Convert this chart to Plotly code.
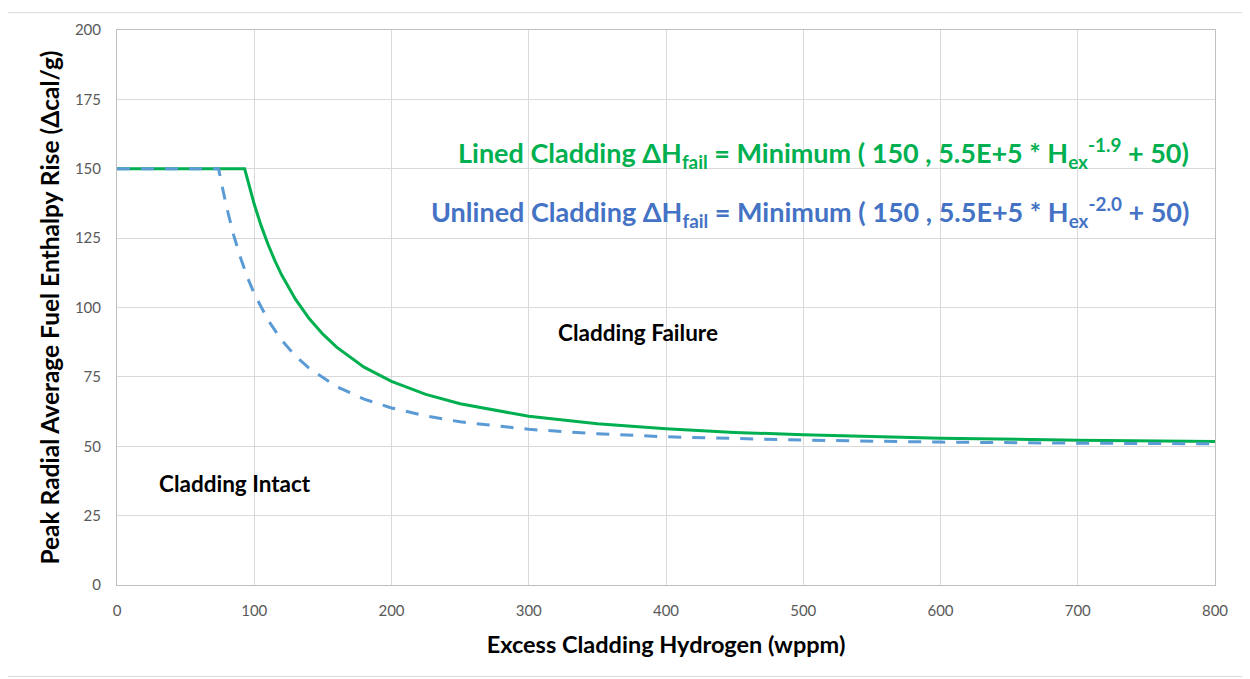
import plotly.graph_objects as go

# Excess cladding hydrogen (wppm) and failure threshold (Δcal/g)
lined_x = [0, 50, 93, 96, 100, 105, 110, 115, 120, 130, 140, 150, 160, 180, 200, 225, 250, 300, 350, 400, 450, 500, 600, 700, 800]
lined_y = [150, 150, 150, 144.5, 137.2, 129.5, 122.8, 116.9, 111.7, 103.0, 96.0, 90.4, 85.7, 78.5, 73.4, 68.7, 65.3, 60.8, 58.1, 56.3, 55.0, 54.1, 52.9, 52.2, 51.7]

unlined_x = [0, 40, 74, 77, 80, 85, 90, 95, 100, 110, 120, 130, 140, 160, 180, 200, 225, 250, 300, 350, 400, 500, 600, 700, 800]
unlined_y = [150, 150, 150, 142.8, 135.9, 126.1, 117.9, 110.9, 105.0, 95.5, 88.2, 82.5, 78.1, 71.5, 67.0, 63.8, 60.9, 58.8, 56.1, 54.5, 53.4, 52.2, 51.5, 51.1, 50.9]

x_ticks = [0, 100, 200, 300, 400, 500, 600, 700, 800]
y_ticks = [0, 25, 50, 75, 100, 125, 150, 175, 200]

GREEN = "#00B050"
BLUE_LINE = "#5B9BD5"
BLUE_TEXT = "#4472C4"
FONT = "Lato, 'Open Sans', sans-serif"

# page offset of ~8px (browser body margin) is compensated in the figure geometry
W, H = 1242, 671
L, T = 109, 16
PW, PH = 1098, 561
R, B = W - L - PW, H - T - PH


def px(xp):
    return (xp - 8 - L) / PW


def py(yp):
    return (T + PH - (yp - 8)) / PH


fig = go.Figure()
fig.add_trace(go.Scatter(x=lined_x, y=lined_y, mode="lines",
                         line=dict(color=GREEN, width=3), name="Lined", showlegend=False))
fig.add_trace(go.Scatter(x=unlined_x, y=unlined_y, mode="lines",
                         line=dict(color=BLUE_LINE, width=3, dash="13px,11px"), name="Unlined", showlegend=False))

fig.update_layout(
    width=W, height=H,
    margin=dict(l=L, r=R, t=T, b=B),
    paper_bgcolor="white", plot_bgcolor="white",
    font=dict(family=FONT),
    xaxis=dict(range=[0, 800], tickvals=x_ticks, showgrid=True, gridcolor="#D9D9D9", gridwidth=1,
               zeroline=False, showline=True, linecolor="#BFBFBF", linewidth=1, mirror=True,
               ticks="", tickfont=dict(size=15, color="#595959"), ticklabelstandoff=12,
               title=dict(text="<b>Excess Cladding Hydrogen (wppm)</b>", font=dict(size=23.5, color="black"), standoff=18)),
    yaxis=dict(range=[0, 200], tickvals=y_ticks, showgrid=True, gridcolor="#D9D9D9", gridwidth=1,
               zeroline=False, showline=True, linecolor="#BFBFBF", linewidth=1, mirror=True,
               ticks="", tickfont=dict(size=15, color="#595959"), ticklabelstandoff=12,
               title=dict(text="<b>Peak Radial Average Fuel Enthalpy Rise (Δcal/g)</b>", font=dict(size=24.5, color="black"), standoff=8)),
    annotations=[
        dict(text="<b>Lined Cladding ΔH<sub>fail</sub> = Minimum ( 150 , 5.5E+5 * H<sub>ex</sub><sup>-1.9</sup> + 50)</b>",
             xref="paper", yref="paper", x=px(1191), y=py(148),
             xanchor="right", yanchor="middle", showarrow=False, font=dict(size=27, color=GREEN)),
        dict(text="<b>Unlined Cladding ΔH<sub>fail</sub> = Minimum ( 150 , 5.5E+5 * H<sub>ex</sub><sup>-2.0</sup> + 50)</b>",
             xref="paper", yref="paper", x=px(1191), y=py(208),
             xanchor="right", yanchor="middle", showarrow=False, font=dict(size=27, color=BLUE_TEXT)),
        dict(text="<b>Cladding Failure</b>", xref="paper", yref="paper",
             x=px(638), y=py(330), xanchor="center", yanchor="middle",
             showarrow=False, font=dict(size=22.5, color="black")),
        dict(text="<b>Cladding Intact</b>", xref="paper", yref="paper",
             x=px(235), y=py(482), xanchor="center", yanchor="middle",
             showarrow=False, font=dict(size=22.5, color="black")),
    ],
    shapes=[
        dict(type="rect", xref="paper", yref="paper",
             x0=px(7.5), x1=px(1246.5), y0=py(677.5), y1=py(6.5),
             line=dict(color="#D9D9D9", width=1), fillcolor="rgba(0,0,0,0)", layer="below"),
    ],
)

fig.write_html("out.html")
